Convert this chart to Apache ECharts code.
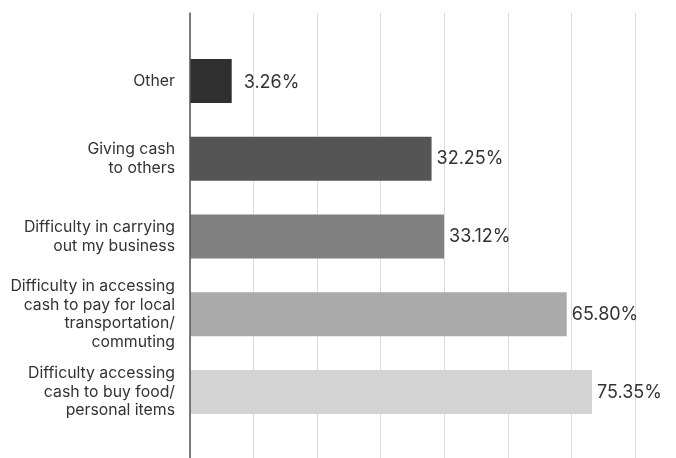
<!DOCTYPE html>
<html>
<head>
<meta charset="utf-8">
<script src="https://cdn.jsdelivr.net/npm/echarts@6/dist/echarts.min.js"></script>
<style>html,body{margin:0;padding:0;background:#fff;}#c{width:676px;height:458px;}</style>
</head>
<body>
<div id="c"></div>
<script>
var categories = ['Other', 'Giving cash\nto others', 'Difficulty in carrying\nout my business', 'Difficulty in accessing\ncash to pay for local\ntransportation/\ncommuting', 'Difficulty accessing\ncash to buy food/\npersonal items'];
var barLengths = [6.56, 38.0, 39.96, 59.26, 63.24];
var valueLabels = ['3.26%', '32.25%', '33.12%', '65.80%', '75.35%'];
var barColors = ['#2f2f2f', '#555555', '#808080', '#aaaaaa', '#d4d4d4'];
var axisTicks = [0, 10, 20, 30, 40, 50, 60, 70];

var chart = echarts.init(document.getElementById('c'), null, {renderer: 'canvas'});
var font = 'Inter, "Noto Sans", sans-serif';
chart.setOption({
  animation: false,
  textStyle: {fontFamily: font},
  grid: [
    {left: 190, right: 41, top: 13, bottom: -10},
    {left: 190, right: 41, top: 42, height: 389}
  ],
  xAxis: [
    {gridIndex: 0, type: 'value', min: axisTicks[0], max: axisTicks[axisTicks.length - 1], interval: axisTicks[1] - axisTicks[0],
     axisLine: {show: false}, axisTick: {show: false}, axisLabel: {show: false},
     splitLine: {show: true, lineStyle: {color: '#dcdcdc', width: 1}}},
    {gridIndex: 1, type: 'value', min: axisTicks[0], max: axisTicks[axisTicks.length - 1],
     axisLine: {show: false}, axisTick: {show: false}, axisLabel: {show: false}, splitLine: {show: false}}
  ],
  yAxis: [
    {gridIndex: 0, type: 'value', min: 0, max: 1, z: 10,
     axisLine: {show: true, lineStyle: {color: '#555', width: 1.5}}, axisTick: {show: false},
     axisLabel: {show: false}, splitLine: {show: false}},
    {gridIndex: 1, type: 'category', data: categories, inverse: true,
     axisLine: {show: false}, axisTick: {show: false}, splitLine: {show: false},
     axisLabel: {margin: 15, fontSize: 15.8, color: '#333', lineHeight: 18.6, align: 'right', fontFamily: font}}
  ],
  series: [{
    type: 'bar', xAxisIndex: 1, yAxisIndex: 1, barWidth: 44,
    data: barLengths.map(function (v, i) {
      return {value: v, itemStyle: {color: barColors[i]},
        label: {show: true, position: 'right', distance: i === 0 ? 12 : 5, offset: [0, i === 0 ? 2 : 0],
          formatter: valueLabels[i], fontSize: 18, color: '#333', fontFamily: font}};
    })
  }]
});
</script>
</body>
</html>
